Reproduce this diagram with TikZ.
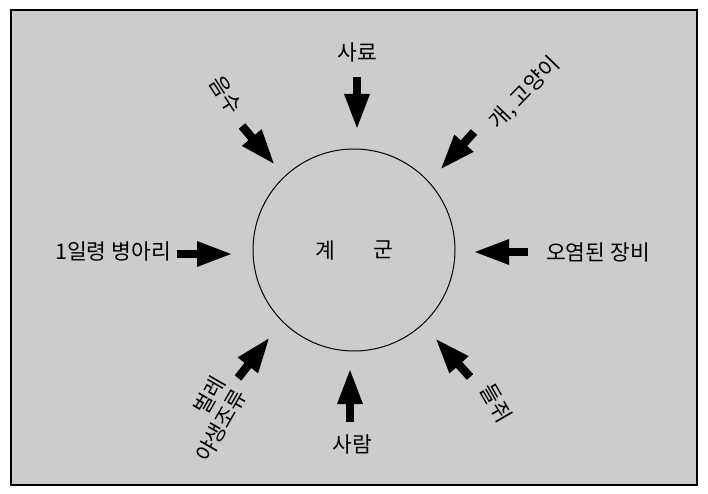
\documentclass[tikz,border=0pt]{standalone}
\usepackage{fontspec}
\setmainfont{Noto Sans CJK KR}
\usetikzlibrary{arrows.meta}
\tikzset{
  blockarrow/.style={line width=8.5pt,-{Triangle[width=23pt,length=36pt]}},
  lbl/.style={font=\fontsize{21.5}{25}\selectfont, inner sep=0pt},
}
\begin{document}
\begin{tikzpicture}[x=1pt,y=-1pt]
\useasboundingbox (0,0) rectangle (708,494);
\draw[line width=1.2pt, fill=black!20] (11,10) rectangle (697,485);
% circle
\node[draw, circle, line width=1pt, minimum size=202pt, inner sep=0pt] (flock) at (354,250) {};
\node[lbl] (gye) at (325,250) {계};
\node[lbl] (gun) at (383,250) {군};
% labels
\node[lbl] (feed) at (357,52) {사료};
\node[lbl] (people) at (352,444) {사람};
\node[lbl] (chick) at (113,252) {1일령 병아리};
\node[lbl] (equip) at (598,252) {오염된 장비};
\node[lbl, rotate=-57] (water) at (226,95) {음수};
\node[lbl, rotate=46] (pets) at (525,93) {개, 고양이};
\node[lbl, rotate=-60] (rats) at (496,403) {들쥐};
\node[lbl, rotate=60, align=right] (birds) at (210,419) {벌레\\야생조류};
% arrow coordinates
\coordinate (t1) at (357,77);  \coordinate (h1) at (357,130);
\coordinate (t2) at (350,422); \coordinate (h2) at (350,368);
\coordinate (t3) at (177,254); \coordinate (h3) at (233,254);
\coordinate (t4) at (528,252); \coordinate (h4) at (473,252);
\coordinate (t5) at (242,126); \coordinate (h5) at (275,165);
\coordinate (t6) at (474,132); \coordinate (h6) at (440,170);
\coordinate (t7) at (238,378); \coordinate (h7) at (270,337);
\coordinate (t8) at (470,377); \coordinate (h8) at (435,338);
\foreach \i in {1,...,8} { \draw[blockarrow] (t\i) -- (h\i); }
\end{tikzpicture}
\end{document}
